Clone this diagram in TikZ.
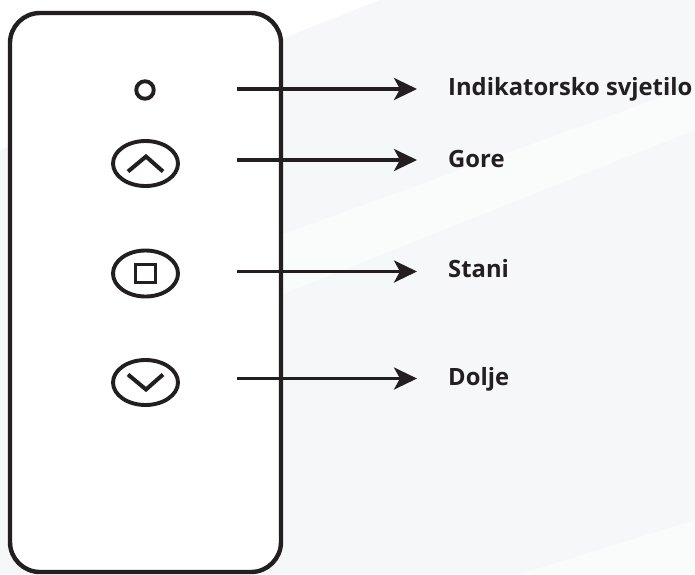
\documentclass[tikz,border=0pt]{standalone}
\usepackage{fontspec}
\setmainfont{Open Sans}
\usetikzlibrary{arrows.meta,shapes.geometric}
\definecolor{ink}{RGB}{35,31,32}
\definecolor{haze}{RGB}{246,247,248}
\begin{document}
\begin{tikzpicture}[x=1pt,y=-1pt,
  outline/.style={draw=ink, line width=4.4pt},
  btn/.style={draw=ink, line width=3.9pt},
  chevron/.style={draw=ink, line width=4pt, line cap=butt, line join=miter},
  pointer/.style={draw=ink, line width=3.3pt, -{Stealth[length=23pt,width=22pt,inset=6pt]}},
  caption/.style={anchor=base west, inner sep=0pt, font=\fontsize{23.8}{28}\selectfont\bfseries, text=ink}]
\useasboundingbox (0,0) rectangle (695,574);
% backdrop with faint diagonal bands
\fill[white] (0,0) rectangle (695,574);
\fill[haze] (0,150) -- (380,0) -- (695,0) -- (695,574) -- (0,574) -- cycle;
\fill[white, opacity=0.5] (280,235) -- (695,85) -- (695,130) -- (280,295) -- cycle;
\fill[white, opacity=0.5] (520,574) -- (695,520) -- (695,574) -- cycle;
% remote body
\node[outline, fill=white, rounded corners=30pt, minimum width=271pt, minimum height=559pt, inner sep=0pt] (remote) at (145.5,292.5) {};
% indicator light and buttons
\node[btn, circle, minimum size=17.5pt, inner sep=0pt] (led) at (145,90) {};
\node[btn, ellipse, minimum width=65pt, minimum height=45pt, inner sep=0pt] (up) at (145.5,163.5) {};
\node[btn, ellipse, minimum width=65pt, minimum height=46pt, inner sep=0pt] (stop) at (145.5,273.5) {};
\node[btn, ellipse, minimum width=65pt, minimum height=45pt, inner sep=0pt] (down) at (145.5,382.5) {};
\node[draw=ink, line width=3.9pt, minimum width=20pt, minimum height=18pt, inner sep=0pt] (stopsq) at (stop.center) {};
\draw[chevron] ([shift={(-17.5,8)}]up.center) -- ([shift={(0.5,-7)}]up.center) -- ([shift={(17.5,8)}]up.center);
\draw[chevron] ([shift={(-17.5,-8)}]down.center) -- ([shift={(0.5,7)}]down.center) -- ([shift={(17.5,-8)}]down.center);
% labels
\node[caption] (l1) at (448,95.5) {Indikatorsko svjetilo};
\node[caption] (l2) at (448,167) {Gore};
\node[caption] (l3) at (448,277.5) {Stani};
\node[caption] (l4) at (448,385) {Dolje};
% pointer arrows
\coordinate (s1) at (237,89);  \coordinate (e1) at (417,89);
\coordinate (s2) at (237,160); \coordinate (e2) at (417,160);
\coordinate (s3) at (237,271.5); \coordinate (e3) at (417,271.5);
\coordinate (s4) at (237,378.5); \coordinate (e4) at (417,378.5);
\draw[pointer] (s1) -- (e1);
\draw[pointer] (s2) -- (e2);
\draw[pointer] (s3) -- (e3);
\draw[pointer] (s4) -- (e4);
\end{tikzpicture}
\end{document}
